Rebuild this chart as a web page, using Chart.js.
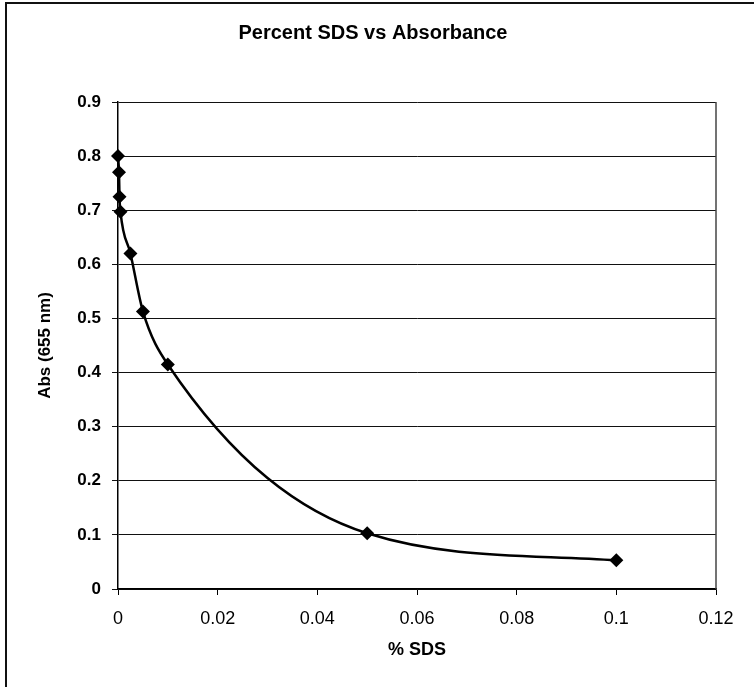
<!DOCTYPE html>
<html>
<head>
<meta charset="utf-8">
<title>Percent SDS vs Absorbance</title>
<script src="https://cdn.jsdelivr.net/npm/chart.js@4"></script>
<style>
  html, body { margin: 0; padding: 0; background: #fff; }
  canvas { display: block; }
</style>
</head>
<body>
<canvas id="chart" width="754" height="687"></canvas>
<script>
// values
const sdsPercent = [0, 0.0002, 0.0003, 0.0005, 0.0025, 0.005, 0.01, 0.05, 0.1];
const absorbance = [0.80, 0.77, 0.725, 0.697, 0.62, 0.513, 0.415, 0.103, 0.053];
const xTickLabels = ['0', '0.02', '0.04', '0.06', '0.08', '0.1', '0.12'];
const yTickLabels = ['0', '0.1', '0.2', '0.3', '0.4', '0.5', '0.6', '0.7', '0.8', '0.9'];

const FONT = "'Liberation Sans', Arial, sans-serif";

// outer frame + right edge of plot area
const framePlugin = {
  id: 'frame',
  beforeDraw(chart) {
    const ctx = chart.ctx;
    ctx.save();
    ctx.strokeStyle = '#111';
    ctx.lineWidth = 2;
    ctx.beginPath();
    ctx.moveTo(6, 687);
    ctx.lineTo(6, 3);
    ctx.lineTo(754, 3);
    ctx.stroke();
    ctx.restore();
  },
  beforeDatasetsDraw(chart) {
    const { ctx, chartArea } = chart;
    ctx.save();
    ctx.strokeStyle = '#444';
    ctx.lineWidth = 1.5;
    ctx.beginPath();
    ctx.moveTo(chartArea.right, chartArea.top);
    ctx.lineTo(chartArea.right, chartArea.bottom);
    ctx.stroke();
    ctx.restore();
  }
};

new Chart(document.getElementById('chart'), {
  type: 'scatter',
  data: {
    datasets: [{
      label: 'Abs',
      data: sdsPercent.map((x, i) => ({ x, y: absorbance[i] })),
      showLine: true,
      clip: false,
      borderColor: '#000',
      borderWidth: 2.5,
      cubicInterpolationMode: 'monotone',
      pointStyle: 'rectRot',
      pointRadius: 7,
      pointBackgroundColor: '#000',
      pointBorderColor: '#000',
      pointBorderWidth: 0
    }]
  },
  options: {
    responsive: false,
    animation: false,
    events: [],
    layout: { padding: { left: 30, right: 38, top: 0, bottom: 0 } },
    scales: {
      x: {
        type: 'linear',
        min: 0, max: 0.12,
        afterFit(scale) { scale.height = 98; },
        ticks: {
          stepSize: 0.02,
          color: '#000',
          padding: 13,
          maxRotation: 0,
          font: { family: FONT, size: 18 },
          callback: (v, i) => xTickLabels[i]
        },
        grid: { drawOnChartArea: false, color: '#000', tickLength: 6 },
        border: { color: '#000', width: 1.5 },
        title: {
          display: true, text: '% SDS', color: '#000',
          font: { family: FONT, size: 18, weight: 'bold' },
          padding: { top: 0, bottom: 26 }
        }
      },
      y: {
        min: 0, max: 0.9,
        afterFit(scale) { scale.width = 88; },
        ticks: {
          stepSize: 0.1,
          color: '#000',
          padding: 11,
          font: { family: FONT, size: 17, weight: 'bold' },
          callback: (v, i) => yTickLabels[i]
        },
        grid: { color: '#111', lineWidth: 1, tickLength: 6 },
        border: { color: '#000', width: 1.5 },
        title: {
          display: true, text: 'Abs (655 nm)', color: '#000',
          font: { family: FONT, size: 17, weight: 'bold' },
          padding: { top: 5, bottom: 0 }
        }
      }
    },
    plugins: {
      legend: { display: false },
      tooltip: { enabled: false },
      title: {
        display: true,
        text: 'Percent SDS vs Absorbance',
        color: '#000',
        font: { family: FONT, size: 20, weight: 'bold' },
        padding: { top: 21, bottom: 57 }
      }
    }
  },
  plugins: [framePlugin]
});
</script>
</body>
</html>
